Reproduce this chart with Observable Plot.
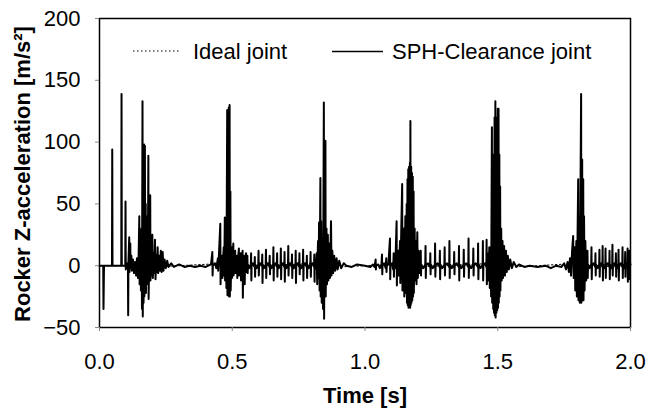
<!DOCTYPE html>
<html><head><meta charset="utf-8">
<script src="https://cdn.jsdelivr.net/npm/d3@7"></script>
<script src="https://cdn.jsdelivr.net/npm/@observablehq/plot@0.6"></script>
<style>body{margin:0;background:#fff}#chart{width:658px;height:412px}</style>
</head><body><div id="chart"></div>
<script>
const xTicks = [0, 0.5, 1.0, 1.5, 2.0];
const yTicks = [-50, 0, 50, 100, 150, 200];
const xLabel = "Time [s]";
const yLabel = "Rocker Z-acceleration [m/s²]";
const seriesNames = ["Ideal joint", "SPH-Clearance joint"];

// [time s, acceleration m/s^2]
const idealJoint = [[0,0],[0.1,0],[0.16,2],[0.2,-1],[0.3,0],[0.48,2],[0.5,-1],[0.6,0],[0.84,2],[0.9,-1],[1.0,0],[1.17,2],[1.2,-1],[1.3,0],[1.49,2],[1.55,-1],[1.65,0],[1.81,2],[1.85,-1],[2.0,0]];

const sphClearance = [
[0,0],[0.014,0],[0.015,-35],[0.017,0],[0.047,0],[0.048,94],[0.049,0],[0.082,0],[0.083,139],[0.084,0],[0.097,0],[0.098,52],[0.099,-3],[0.103,2],[0.107,0],[0.108,-40],[0.109,3],[0.112,23],[0.113,-5],[0.116,18],[0.117,-2],[0.12,8],[0.122,-4],[0.126,5],[0.13,-6],[0.134,3],[0.138,-8],[0.141,6],[0.145,-10],[0.147,4],[0.150,40],[0.151,-15],[0.154,20],[0.156,-20],[0.158,30],[0.160,-35],[0.162,133],[0.163,-41],[0.165,60],[0.166,-30],[0.168,98],[0.169,-25],[0.171,97],[0.172,-20],[0.174,50],[0.175,-22],[0.177,40],[0.178,-15],[0.181,30],[0.182,-12],[0.184,89],[0.185,-27],[0.188,20],[0.189,-10],[0.191,57],[0.192,-12],[0.195,15],[0.197,-8],[0.199,25],[0.201,-10],[0.204,10],[0.206,-6],[0.209,21],[0.211,-11],[0.214,8],[0.216,-5],[0.219,15],[0.221,-6],[0.225,8],[0.228,-4],[0.231,12],[0.234,-5],[0.238,11],[0.241,-4],[0.245,5],[0.25,-2],[0.255,4],[0.26,-1],[0.27,2],[0.28,-1],[0.3,1],[0.32,-1],[0.34,0],[0.36,-1],[0.38,0],[0.40,-1],[0.41,0],
[0.42,1],[0.425,11],[0.426,-8],[0.427,0],[0.435,2],[0.44,-2],[0.446,6],[0.447,-4],[0.448,0],[0.455,34],[0.456,-15],[0.457,0],[0.462,8],[0.463,-10],[0.464,0],[0.468,15],[0.469,-8],[0.470,0],[0.472,39],[0.473,-12],[0.474,0],[0.476,20],[0.478,-18],[0.481,126],[0.482,-24],[0.484,126],[0.485,-24],[0.487,128],[0.488,-25],[0.490,130],[0.491,-25],
[0.493,60],[0.494,-20],[0.496,0],[0.498,15],[0.499,-10],[0.500,0],[0.504,18],[0.505,-8],[0.506,0],[0.511,12],[0.512,-6],[0.513,0],[0.518,8],[0.519,-10],[0.52,0],[0.525,14],[0.526,-8],[0.527,0],[0.532,10],[0.533,-12],[0.534,0],[0.539,12],[0.540,-26],[0.541,0],[0.546,8],[0.547,-15],[0.548,0],[0.552,10],[0.553,-5],[0.554,0],
[0.556,0],[0.557,8],[0.558,-6],[0.559,1],[0.564,-2],[0.570,1],[0.571,10],[0.572,-12],[0.573,0],[0.578,2],[0.584,-1],[0.585,7],[0.586,-9],[0.587,1],[0.592,-2],[0.598,1],[0.599,12],[0.600,-8],[0.601,-1],[0.606,2],[0.612,0],[0.613,9],[0.614,-14],[0.615,1],[0.62,-2],[0.626,1],[0.627,13],[0.628,-10],[0.629,0],[0.634,2],[0.640,-1],[0.641,8],[0.642,-7],[0.643,1],[0.648,-2],[0.654,1],[0.655,15],[0.656,-12],[0.657,0],[0.662,2],[0.668,-1],[0.669,10],[0.670,-9],[0.671,1],[0.676,-2],[0.682,1],[0.683,14],[0.684,-11],[0.685,0],[0.69,2],[0.696,-1],[0.697,11],[0.698,-13],[0.699,1],[0.704,-2],[0.710,1],[0.711,16],[0.712,-8],[0.713,0],[0.718,2],[0.724,-1],[0.725,9],[0.726,-10],[0.727,1],[0.732,-2],[0.738,1],[0.739,12],[0.740,-14],[0.741,0],[0.746,2],[0.752,-1],[0.753,10],[0.754,-7],[0.755,1],[0.76,-2],[0.766,1],[0.767,13],[0.768,-12],[0.769,0],[0.774,2],[0.780,-1],[0.781,8],[0.782,-10],[0.783,1],[0.788,-2],[0.794,1],[0.795,11],[0.796,-9],[0.797,0],[0.802,2],[0.808,-1],[0.809,9],[0.810,-13],[0.811,1],[0.815,-2],
[0.818,10],[0.82,-15],[0.823,20],[0.825,-10],[0.827,35],[0.829,-20],[0.832,71],[0.833,-25],[0.835,36],[0.837,-30],[0.840,20],[0.842,-35],[0.845,132],[0.846,-43],[0.848,40],[0.849,-20],[0.851,101],[0.852,-25],[0.855,30],[0.857,-15],[0.860,25],[0.862,-12],[0.866,18],[0.868,-10],[0.872,36],[0.874,-8],[0.877,12],[0.88,-6],[0.884,8],[0.888,-4],[0.893,6],[0.897,-3],[0.903,4],[0.91,-2],[0.92,2],[0.93,0],[0.95,-1],[0.97,1],[1.0,0],[1.02,-1],[1.03,1],
[1.036,-1],[1.040,5],[1.041,-3],[1.042,0],[1.05,1],[1.056,-2],[1.062,1],[1.064,9],[1.065,-7],[1.066,0],[1.072,2],[1.078,-2],[1.080,6],[1.081,-5],[1.082,0],[1.088,1],[1.094,22],[1.095,-11],[1.096,0],[1.102,2],[1.106,-3],[1.108,10],[1.109,-9],[1.110,0],[1.114,-2],[1.119,36],[1.120,-16],[1.121,0],[1.126,12],[1.127,-8],[1.128,0],[1.132,20],[1.133,-14],[1.134,0],[1.140,66],[1.141,-20],[1.143,0],[1.146,30],[1.148,-25],
[1.152,40],[1.154,-22],[1.157,50],[1.158,-30],[1.160,70],[1.161,-32],[1.163,78],[1.164,-34],[1.166,80],[1.167,-30],[1.169,83],[1.170,-34],[1.171,117],[1.172,-32],[1.174,80],[1.175,-30],[1.177,75],[1.178,-28],[1.180,72],[1.181,-25],[1.183,60],[1.184,-22],[1.187,30],[1.189,-12],[1.192,20],[1.194,-15],[1.197,27],[1.199,-10],[1.202,12],[1.205,-6],
[1.207,0],[1.21,12],[1.211,-8],[1.212,1],[1.219,-2],[1.227,1],[1.228,16],[1.229,-10],[1.230,0],[1.237,2],[1.245,-1],[1.246,10],[1.247,-7],[1.248,1],[1.255,-2],[1.263,1],[1.264,18],[1.265,-9],[1.266,0],[1.273,2],[1.281,-1],[1.282,12],[1.283,-11],[1.284,1],[1.291,-2],[1.299,1],[1.300,15],[1.301,-8],[1.302,0],[1.309,2],[1.317,-1],[1.318,20],[1.319,-10],[1.320,1],[1.327,-2],[1.335,1],[1.336,11],[1.337,-7],[1.338,0],[1.345,2],[1.353,-1],[1.354,16],[1.355,-12],[1.356,1],[1.363,-2],[1.371,1],[1.372,13],[1.373,-9],[1.374,0],[1.381,2],[1.389,-1],[1.390,22],[1.391,-10],[1.392,1],[1.399,-2],[1.407,1],[1.408,14],[1.409,-8],[1.410,0],[1.417,2],[1.425,-1],[1.426,18],[1.427,-11],[1.428,1],[1.435,-2],[1.443,1],[1.444,20],[1.445,-12],[1.446,0],[1.452,2],[1.457,-1],[1.458,21],[1.459,-15],[1.460,1],[1.465,10],[1.466,-12],[1.468,15],[1.470,-18],[1.473,15],[1.475,-25],
[1.478,112],[1.479,-30],[1.482,60],[1.483,-35],[1.485,90],[1.486,-38],[1.488,120],[1.489,-40],[1.491,133],[1.492,-42],[1.494,100],[1.495,-38],[1.497,120],[1.498,-36],[1.500,127],[1.501,-34],[1.503,127],[1.504,-30],[1.506,90],[1.507,-25],[1.509,64],[1.510,-20],[1.513,30],[1.515,-12],[1.518,20],[1.52,-10],[1.524,16],[1.527,-8],[1.531,12],[1.534,-5],[1.538,8],[1.542,-3],[1.547,5],[1.553,-2],[1.56,3],[1.57,-1],[1.58,1],[1.60,-1],[1.62,0],[1.65,-1],[1.68,0],[1.70,-2],[1.72,0],[1.74,-1],[1.75,2],[1.757,-3],[1.763,3],[1.768,-5],[1.772,6],
[1.776,-8],[1.78,12],[1.784,24],[1.786,-10],[1.79,15],[1.792,-20],[1.796,20],[1.798,-25],[1.803,70],[1.804,-28],[1.807,40],[1.809,-30],[1.814,139],[1.815,-30],[1.818,86],[1.819,-28],[1.822,70],[1.823,-28],[1.825,40],[1.827,-20],[1.83,20],[1.833,-12],
[1.836,0],[1.838,12],[1.839,-10],[1.840,1],[1.846,-2],[1.852,1],[1.853,15],[1.854,-11],[1.855,0],[1.861,2],[1.867,-1],[1.868,10],[1.869,-8],[1.870,1],[1.876,-2],[1.882,1],[1.883,13],[1.884,-9],[1.885,0],[1.89,2],[1.894,-1],[1.895,16],[1.896,-12],[1.897,1],[1.901,-2],[1.905,1],[1.906,14],[1.907,-10],[1.908,0],[1.914,2],[1.920,-1],[1.921,12],[1.922,-11],[1.923,1],[1.927,-2],[1.931,1],[1.932,17],[1.933,-8],[1.934,0],[1.94,2],[1.944,-1],[1.945,10],[1.946,-9],[1.947,1],[1.951,-2],[1.954,1],[1.955,13],[1.956,-12],[1.957,0],[1.963,2],[1.969,-1],[1.970,15],[1.971,-10],[1.972,1],[1.976,-2],[1.979,1],[1.980,11],[1.981,-9],[1.982,0],[1.985,2],[1.988,-1],[1.989,14],[1.990,-13],[1.991,1],[1.994,-2],[1.995,1],[1.996,12],[1.997,-11],[1.998,0],[2.0,1]
];

const font = "'Liberation Sans', Arial, Helvetica, sans-serif";
const plot = Plot.plot({
  width: 658, height: 412,
  marginLeft: 99, marginRight: 28, marginTop: 18, marginBottom: 85,
  style: {fontFamily: font, fontSize: "22px", background: "white", color: "black", overflow: "visible"},
  x: {domain: [0, 2]},
  y: {domain: [-50, 200]},
  marks: [
    Plot.line(idealJoint, {x: d => d[0], y: d => d[1], stroke: "black", strokeWidth: 1, strokeDasharray: "1.5,2.5"}),
    Plot.line(sphClearance, {x: d => d[0], y: d => d[1], stroke: "black", strokeWidth: 2}),
    Plot.frame({stroke: "black", strokeWidth: 1.5}),
    Plot.axisX({ticks: xTicks, tickFormat: d3.format(".1f"), tickSize: 4, tickPadding: 22, stroke: "#888", label: null, fontSize: 22}),
    Plot.axisY({ticks: yTicks, tickSize: 4, tickPadding: 15, stroke: "#888", label: null, fontSize: 22}),
    Plot.text([xLabel], {frameAnchor: "bottom", dy: 75, lineAnchor: "bottom", fontWeight: "bold", fontSize: 22, fill: "black"})
  ]
});

const svg = d3.select(plot);
svg.append("text")
  .attr("transform", "translate(22,174) rotate(-90)")
  .attr("text-anchor", "middle").attr("dy", "0.35em")
  .attr("font-family", font).attr("font-size", 22).attr("font-weight", "bold").attr("fill", "black")
  .text(yLabel);

const leg = svg.append("g").attr("font-family", font).attr("font-size", 22).attr("fill", "black").attr("text-anchor", "start");
leg.append("line").attr("x1", 133).attr("x2", 180).attr("y1", 51).attr("y2", 51)
  .attr("stroke", "black").attr("stroke-width", 1).attr("stroke-dasharray", "1.5,2.5");
leg.append("text").attr("x", 193).attr("y", 59).text(seriesNames[0]);
leg.append("line").attr("x1", 332).attr("x2", 383).attr("y1", 51.5).attr("y2", 51.5)
  .attr("stroke", "black").attr("stroke-width", 1.5);
leg.append("text").attr("x", 392).attr("y", 59).text(seriesNames[1]);

document.getElementById("chart").appendChild(plot);
</script>
</body></html>
